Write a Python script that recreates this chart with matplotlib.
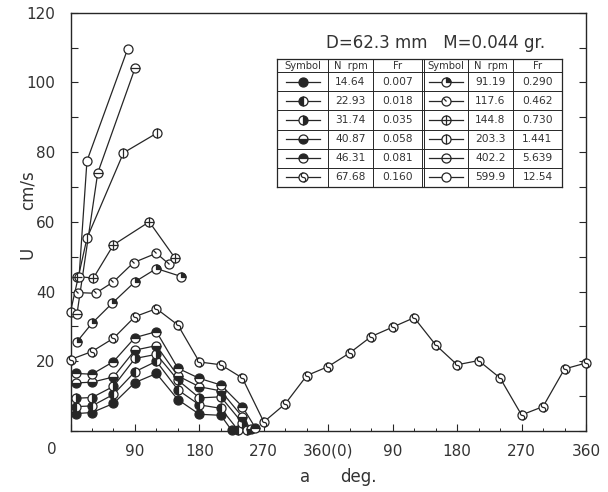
import numpy as np
import matplotlib.pyplot as plt
from matplotlib.path import Path

plt.rcParams['font.family'] = ['DejaVu Sans']

# ---- data ----
rpm = ['14.64', '22.93', '31.74', '40.87', '46.31', '67.68',
       '91.19', '117.6', '144.8', '203.3', '402.2', '599.9']
froude = ['0.007', '0.018', '0.035', '0.058', '0.081', '0.160',
          '0.290', '0.462', '0.730', '1.441', '5.639', '12.54']

a1 = [8, 30, 60, 90, 120, 150, 180, 210, 225]
u1 = [5.0, 5.3, 7.9, 13.9, 16.5, 9.0, 4.8, 4.5, 0.2]
a2 = [8, 30, 60, 90, 120, 150, 180, 210, 234]
u2 = [7.0, 7.2, 10.5, 17.0, 20.0, 11.8, 7.5, 6.5, 0.3]
a3 = [8, 30, 60, 90, 120, 150, 180, 210, 240, 246]
u3 = [9.4, 9.6, 12.8, 20.8, 22.0, 14.6, 9.5, 9.8, 2.3, 0.3]
a4 = [8, 30, 60, 90, 120, 150, 180, 210, 240, 252]
u4 = [13.8, 14.0, 15.5, 23.2, 24.5, 15.8, 12.7, 11.5, 4.1, 0.5]
a5 = [8, 30, 60, 90, 120, 150, 180, 210, 240, 258]
u5 = [16.5, 16.3, 19.9, 26.8, 28.5, 18.0, 15.1, 13.2, 7.0, 1.0]
a6 = [0, 30, 60, 90, 120, 150, 180, 210, 240, 270, 300, 330, 360,
      390, 420, 450, 480, 510, 540, 570, 600, 630, 660, 690, 720]
u6 = [20.5, 22.8, 26.6, 32.8, 35.1, 30.4, 19.8, 19.0, 15.2, 2.6, 7.8, 15.9, 18.5,
      22.4, 27.1, 29.8, 32.5, 24.7, 19.0, 20.2, 15.2, 4.6, 7.0, 17.8, 19.5]
a7 = [9, 30, 58, 90, 120, 155]
u7 = [25.6, 30.9, 36.6, 42.8, 46.6, 44.3]
a8 = [11, 35, 60, 88, 120, 138]
u8 = [39.7, 39.5, 42.8, 48.3, 51.0, 47.8]
a9 = [9, 32, 60, 110, 146]
u9 = [44.3, 43.9, 53.4, 60.0, 49.6]
a10 = [0, 23, 74, 121]
u10 = [34.2, 55.3, 79.8, 85.5]
a11 = [9, 38, 90]
u11 = [33.5, 74.0, 104.0]
a12 = [12, 23, 80]
u12 = [44.3, 77.5, 109.7]

angles = [a1, a2, a3, a4, a5, a6, a7, a8, a9, a10, a11, a12]
speeds = [u1, u2, u3, u4, u5, u6, u7, u8, u9, u10, u11, u12]
kinds = ['full', 'left', 'right', 'bottom', 'top', 'S',
         'wedge', 'tick', 'cross', 'vbar', 'hbar', 'open']

ink = '#262626'
M, L, C = Path.MOVETO, Path.LINETO, Path.CURVE4

th = np.linspace(0, np.pi / 2, 12)
wedge = Path([(0, 0)] + list(zip(np.cos(th), np.sin(th))) + [(0, 0)],
             [M] + [L] * 12 + [Path.CLOSEPOLY])
extra = {
    'S': Path([(0, 1), (-0.65, 1), (-0.65, 0), (0, 0), (0.65, 0), (0.65, -1), (0, -1)],
              [M, C, C, C, C, C, C]),
    'wedge': wedge,
    'tick': Path([(0, 1), (0, 0), (-0.71, 0.71)], [M, M, L]),
    'cross': Path([(-1, 0), (1, 0), (0, -1), (0, 1)], [M, L, M, L]),
    'vbar': Path([(0, -1), (0, 1)], [M, L]),
    'hbar': Path([(-1, 0), (1, 0)], [M, L]),
}


def put_marker(ax, x, y, kind, ms):
    if kind in ('full', 'left', 'right', 'bottom', 'top'):
        ax.plot(x, y, ls='none', marker='o', ms=ms, mec=ink, mfc=ink,
                mfcalt='white', fillstyle=kind, mew=0.9, zorder=3, clip_on=False)
    else:
        ax.plot(x, y, ls='none', marker='o', ms=ms, mec=ink, mfc='white',
                mew=0.9, zorder=3, clip_on=False)
        if kind in extra:
            ax.plot(x, y, ls='none', marker=extra[kind], ms=ms, mec=ink,
                    mfc=ink if kind == 'wedge' else 'none', mew=0.9, zorder=4,
                    clip_on=False)


fig = plt.figure(figsize=(6.08, 4.92), dpi=100)
W, H = 608, 492
ax = fig.add_axes([70.5 / W, 1 - 431 / H, (586 - 70.5) / W, (431 - 12.7) / H])

for a, u, k in zip(angles, speeds, kinds):
    ax.plot(a, u, color=ink, lw=0.9, zorder=2, clip_on=False)
    put_marker(ax, a, u, k, 6.5)

ax.set_xlim(0, 720)
ax.set_ylim(0, 120)
ax.set_xticks(np.arange(0, 721, 90))
ax.set_xticklabels(['', '90', '180', '270', '360(0)', '90', '180', '270', '360'])
ax.set_xticks(np.arange(0, 721, 30), minor=True)
ax.set_yticks(np.arange(0, 121, 10))
ax.set_yticklabels([str(v) if v % 20 == 0 and v > 0 else '' for v in range(0, 121, 10)])
ax.tick_params(which='major', direction='in', length=5, width=0.8, color=ink,
               labelsize=11, labelcolor='#333333', right=True, top=False)
ax.tick_params(axis='x', which='major', pad=9)
ax.tick_params(axis='y', which='major', pad=11)
ax.tick_params(axis='x', which='minor', direction='in', length=2.5, width=0.7, color=ink)
for s in ax.spines.values():
    s.set_color(ink)
    s.set_linewidth(1.0)

fig.text(52 / W, 1 - 450 / H, '0', ha='center', va='center', size=11, color='#333333')
fig.text(28 / W, 1 - 253 / H, 'U', rotation=90, ha='center', va='center', size=12, color='#333333')
fig.text(28 / W, 1 - 190 / H, 'cm/s', rotation=90, ha='center', va='center', size=12, color='#333333')
fig.text(305 / W, 1 - 477 / H, 'a', ha='center', va='center', size=12, color='#333333')
fig.text(358 / W, 1 - 477 / H, 'deg.', ha='center', va='center', size=12, color='#333333')
fig.text(436 / W, 1 - 43 / H, 'D=62.3 mm   M=0.044 gr.', ha='center', va='center',
         size=12, color='#333333')

# ---- legend table ----
lx0, lx1, ly0, ly1 = 277, 562, 59, 187
lg = fig.add_axes([lx0 / W, 1 - ly1 / H, (lx1 - lx0) / W, (ly1 - ly0) / H])
lg.set_xlim(0, lx1 - lx0)
lg.set_ylim(ly1 - ly0, 0)
lg.set_xticks([])
lg.set_yticks([])
for s in lg.spines.values():
    s.set_color(ink)
    s.set_linewidth(0.9)

cols = [0, 51, 96, 145, 147, 191, 236, 285]
rows = [0, 13] + list(np.linspace(13, 128, 7)[1:])
for c in cols[1:-1]:
    lg.axvline(c, color=ink, lw=0.7)
for r in rows[1:-1]:
    lg.axhline(r, color=ink, lw=0.7)

fs = 7.2
for base in (0, 147):
    widths = [51, 45, 49] if base == 0 else [44, 45, 49]
    x = base
    for w, t in zip(widths, ['Symbol', 'N  rpm', 'Fr']):
        lg.text(x + w / 2, 6.8, t, ha='center', va='center', size=fs, color='#333333')
        x += w

for i in range(12):
    side = i // 6
    r = i % 6
    yc = (rows[r + 1] + rows[r + 2]) / 2
    if side == 0:
        xs, xn, xf = 25.5, 73.5, 120.5
    else:
        xs, xn, xf = 169, 213.5, 260.5
    lg.plot([xs - 17, xs + 17], [yc, yc], color=ink, lw=0.9)
    put_marker(lg, [xs], [yc], kinds[i], 6.5)
    lg.text(xn, yc, rpm[i], ha='center', va='center', size=fs + 0.5, color='#333333')
    lg.text(xf, yc, froude[i], ha='center', va='center', size=fs + 0.5, color='#333333')

fig.savefig('out.png', dpi=100)
